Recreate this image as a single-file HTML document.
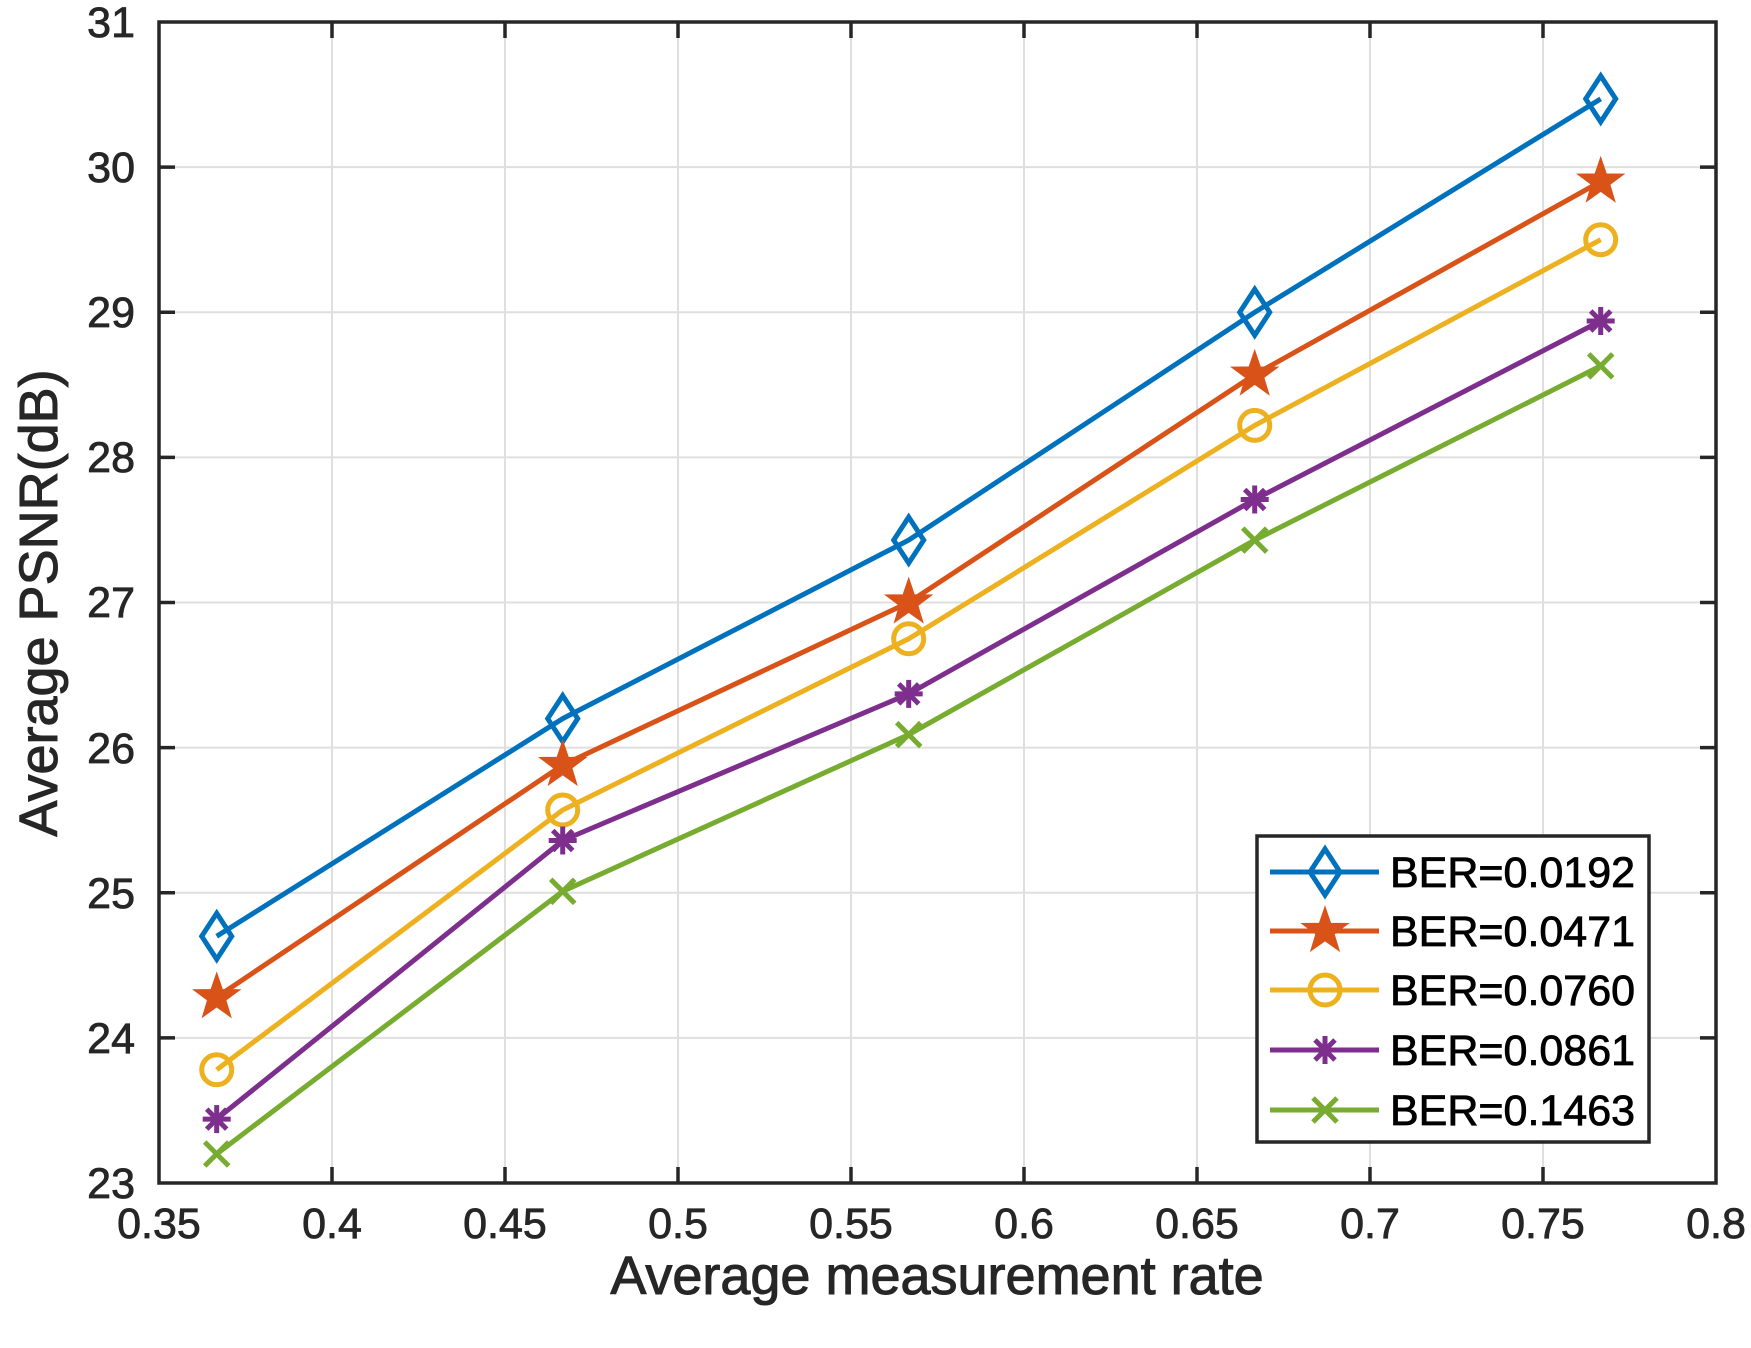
<!DOCTYPE html>
<html><head><meta charset="utf-8"><style>body{margin:0;background:#fff}svg{display:block}</style></head>
<body>
<svg width="1751" height="1348" viewBox="0 0 1751 1348" xmlns="http://www.w3.org/2000/svg" font-family="'Liberation Sans', Arial, sans-serif">
<defs>
<path id="dia" d="M0,-23 L15,0 L0,23 L-15,0 Z" fill="none" stroke="#0072BD" stroke-width="5"/>
<path id="star" d="M0,-22 L5.1,-7 L21,-6.8 L8.3,2.7 L12.9,18 L0,8.8 L-12.9,18 L-8.3,2.7 L-21,-6.8 L-5.1,-7 Z" fill="#D95319" stroke="#D95319" stroke-width="2.5"/>
<circle id="circ" r="15" fill="none" stroke="#EDB120" stroke-width="5"/>
<g id="ast" stroke="#7E2F8E" stroke-width="5"><line x1="-14" y1="0" x2="14" y2="0"/><line x1="0" y1="-14" x2="0" y2="14"/><line x1="-10" y1="-10" x2="10" y2="10"/><line x1="-10" y1="10" x2="10" y2="-10"/></g>
<g id="crs" stroke="#77AC30" stroke-width="5"><line x1="-12" y1="-12" x2="12" y2="12"/><line x1="-12" y1="12" x2="12" y2="-12"/></g>
</defs>
<rect x="159" y="22" width="1557" height="1161" fill="#fff"/>
<g stroke="#dfdfdf" stroke-width="2">
<line x1="332" y1="22" x2="332" y2="1183"/><line x1="505" y1="22" x2="505" y2="1183"/><line x1="678" y1="22" x2="678" y2="1183"/><line x1="851" y1="22" x2="851" y2="1183"/><line x1="1024" y1="22" x2="1024" y2="1183"/><line x1="1197" y1="22" x2="1197" y2="1183"/><line x1="1370" y1="22" x2="1370" y2="1183"/><line x1="1543" y1="22" x2="1543" y2="1183"/>
<line x1="159" y1="1037.9" x2="1716" y2="1037.9"/><line x1="159" y1="892.75" x2="1716" y2="892.75"/><line x1="159" y1="747.6" x2="1716" y2="747.6"/><line x1="159" y1="602.5" x2="1716" y2="602.5"/><line x1="159" y1="457.4" x2="1716" y2="457.4"/><line x1="159" y1="312.25" x2="1716" y2="312.25"/><line x1="159" y1="167.1" x2="1716" y2="167.1"/>
</g>
<g stroke="#262626" stroke-width="3.5">
<rect x="159" y="22" width="1557" height="1161" fill="none"/>
<path d="M332,1183v-16M505,1183v-16M678,1183v-16M851,1183v-16M1024,1183v-16M1197,1183v-16M1370,1183v-16M1543,1183v-16M332,22v16M505,22v16M678,22v16M851,22v16M1024,22v16M1197,22v16M1370,22v16M1543,22v16"/>
<path d="M159,1037.9h16M159,892.75h16M159,747.6h16M159,602.5h16M159,457.4h16M159,312.25h16M159,167.1h16M1716,1037.9h-16M1716,892.75h-16M1716,747.6h-16M1716,602.5h-16M1716,457.4h-16M1716,312.25h-16M1716,167.1h-16"/>
</g>
<g font-size="43" fill="#262626" stroke="#262626" stroke-width="0.8" text-anchor="end">
<text x="135" y="1198">23</text><text x="135" y="1053">24</text><text x="135" y="908">25</text><text x="135" y="763">26</text><text x="135" y="617">27</text><text x="135" y="472">28</text><text x="135" y="327">29</text><text x="135" y="182">30</text><text x="135" y="37">31</text>
</g>
<g font-size="43" fill="#262626" stroke="#262626" stroke-width="0.8" text-anchor="middle">
<text x="159" y="1238">0.35</text><text x="332" y="1238">0.4</text><text x="505" y="1238">0.45</text><text x="678" y="1238">0.5</text><text x="851" y="1238">0.55</text><text x="1024" y="1238">0.6</text><text x="1197" y="1238">0.65</text><text x="1370" y="1238">0.7</text><text x="1543" y="1238">0.75</text><text x="1716" y="1238">0.8</text>
</g>
<text x="937" y="1294" font-size="54" fill="#262626" stroke="#262626" stroke-width="1" text-anchor="middle">Average measurement rate</text>
<text transform="translate(57,603) rotate(-90)" font-size="54" fill="#262626" stroke="#262626" stroke-width="1" text-anchor="middle">Average PSNR(dB)</text>
<g fill="none" stroke-width="5">
<polyline stroke="#0072BD" points="216.7,936.3 562.7,718.6 908.7,540.1 1254.7,312.3 1600.7,98.9"/>
<polyline stroke="#D95319" points="216.7,997.2 562.7,765 908.7,602.5 1254.7,374.6 1600.7,181.6"/>
<polyline stroke="#EDB120" points="216.7,1069.8 562.7,810 908.7,638.8 1254.7,425.4 1600.7,239.7"/>
<polyline stroke="#7E2F8E" points="216.7,1119.1 562.7,840.5 908.7,693.9 1254.7,499.5 1600.7,321"/>
<polyline stroke="#77AC30" points="216.7,1154 562.7,891.3 908.7,734.6 1254.7,540.1 1600.7,365.9"/>
</g>
<use href="#dia" x="216.7" y="936.3"/><use href="#dia" x="562.7" y="718.6"/><use href="#dia" x="908.7" y="540.1"/><use href="#dia" x="1254.7" y="312.3"/><use href="#dia" x="1600.7" y="98.9"/>
<use href="#star" x="216.7" y="997.2"/><use href="#star" x="562.7" y="765"/><use href="#star" x="908.7" y="602.5"/><use href="#star" x="1254.7" y="374.6"/><use href="#star" x="1600.7" y="181.6"/>
<use href="#circ" x="216.7" y="1069.8"/><use href="#circ" x="562.7" y="810"/><use href="#circ" x="908.7" y="638.8"/><use href="#circ" x="1254.7" y="425.4"/><use href="#circ" x="1600.7" y="239.7"/>
<use href="#ast" x="216.7" y="1119.1"/><use href="#ast" x="562.7" y="840.5"/><use href="#ast" x="908.7" y="693.9"/><use href="#ast" x="1254.7" y="499.5"/><use href="#ast" x="1600.7" y="321"/>
<use href="#crs" x="216.7" y="1154"/><use href="#crs" x="562.7" y="891.3"/><use href="#crs" x="908.7" y="734.6"/><use href="#crs" x="1254.7" y="540.1"/><use href="#crs" x="1600.7" y="365.9"/>
<rect x="1257" y="836" width="392" height="306" fill="#fff" stroke="#262626" stroke-width="3.5"/>
<g stroke-width="5">
<line x1="1270" y1="872" x2="1379" y2="872" stroke="#0072BD"/>
<line x1="1270" y1="931" x2="1379" y2="931" stroke="#D95319"/>
<line x1="1270" y1="990" x2="1379" y2="990" stroke="#EDB120"/>
<line x1="1270" y1="1050" x2="1379" y2="1050" stroke="#7E2F8E"/>
<line x1="1270" y1="1110" x2="1379" y2="1110" stroke="#77AC30"/>
</g>
<use href="#dia" x="1325" y="872"/><use href="#star" x="1325" y="931"/><use href="#circ" x="1325" y="990"/><use href="#ast" x="1325" y="1050"/><use href="#crs" x="1325" y="1110"/>
<g font-size="43" fill="#000" stroke="#000" stroke-width="0.8">
<text x="1390" y="887">BER=0.0192</text><text x="1390" y="946">BER=0.0471</text><text x="1390" y="1005">BER=0.0760</text><text x="1390" y="1065">BER=0.0861</text><text x="1390" y="1125">BER=0.1463</text>
</g>
</svg>
</body></html>
